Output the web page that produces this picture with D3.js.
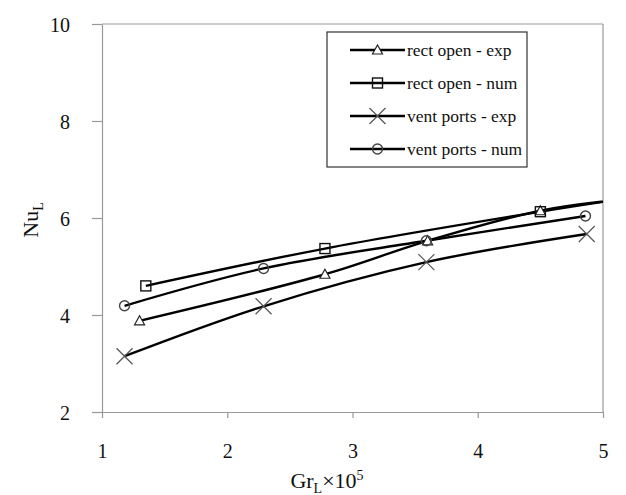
<!DOCTYPE html>
<html>
<head>
<meta charset="utf-8">
<script src="https://cdn.jsdelivr.net/npm/d3@7"></script>
<style>
  body { margin: 0; background: #fff; }
  svg text { font-family: "Liberation Serif", "DejaVu Serif", "Times New Roman", Times, serif; fill: #111; }
</style>
</head>
<body>
<svg id="chart" width="626" height="495"></svg>
<script>
// series data (Gr_L x 10^5, Nu_L)
const rectOpenExp = [[1.3, 3.88], [2.78, 4.84], [3.6, 5.53], [4.5, 6.15], [5.3, 6.42]];
const rectOpenNum = [[1.35, 4.6], [2.78, 5.37], [4.5, 6.13], [5.3, 6.45]];
const ventPortsExp = [[1.18, 3.15], [2.29, 4.18], [3.59, 5.09], [4.87, 5.67]];
const ventPortsNum = [[1.18, 4.19], [2.29, 4.96], [3.59, 5.53], [4.86, 6.04]];

const seriesNames = ['rect open - exp', 'rect open - num', 'vent ports - exp', 'vent ports - num'];
const markers = ['triangle', 'square', 'cross', 'circle'];
const xTicks = [1, 2, 3, 4, 5];
const yTicks = [2, 4, 6, 8, 10];

const allSeries = [rectOpenExp, rectOpenNum, ventPortsExp, ventPortsNum];

const serif = '"Liberation Serif", "DejaVu Serif", "Times New Roman", Times, serif';

const margin = { top: 24, right: 23, bottom: 83, left: 102 };
const width = 626;
const height = 495;

const svg = d3.select('#chart');

const x = d3.scaleLinear().domain([1, 5]).range([margin.left, width - margin.right]);
const y = d3.scaleLinear().domain([2, 10]).range([height - margin.bottom, margin.top]);

svg.append('defs').append('clipPath').attr('id', 'plotclip')
  .append('rect')
  .attr('x', x(1)).attr('y', y(10))
  .attr('width', x(5) - x(1)).attr('height', y(2) - y(10));

// frame lines (top and right)
svg.append('line')
  .attr('x1', x(1)).attr('x2', x(5)).attr('y1', y(10)).attr('y2', y(10))
  .attr('stroke', '#999').attr('stroke-width', 1.2);
svg.append('line')
  .attr('x1', x(5)).attr('x2', x(5)).attr('y1', y(10)).attr('y2', y(2))
  .attr('stroke', '#999').attr('stroke-width', 1.2);

const xAxis = svg.append('g')
  .attr('transform', `translate(0,${y(2)})`)
  .call(d3.axisBottom(x).tickValues(xTicks).tickSize(6).tickSizeOuter(0).tickPadding(26).tickFormat(d3.format('d')));
const yAxis = svg.append('g')
  .attr('transform', `translate(${x(1)},0)`)
  .call(d3.axisLeft(y).tickValues(yTicks).tickSize(10).tickSizeOuter(0).tickPadding(22).tickFormat(d3.format('d')));

[xAxis, yAxis].forEach((g) => {
  g.attr('font-family', serif);
  g.selectAll('.domain').attr('stroke', '#999').attr('stroke-width', 1.2);
  g.selectAll('.tick line').attr('stroke', '#999').attr('stroke-width', 1.2);
  g.selectAll('.tick text').attr('font-size', 20).attr('fill', '#111')
    .style('font-family', serif);
});
yAxis.selectAll('.tick text').attr('dy', '0.35em');

const line = d3.line()
  .x((d) => x(d[0]))
  .y((d) => y(d[1]))
  .curve(d3.curveCatmullRom.alpha(0.5));

const plot = svg.append('g').attr('clip-path', 'url(#plotclip)');

allSeries.forEach((data) => {
  plot.append('path')
    .datum(data)
    .attr('fill', 'none')
    .attr('stroke', '#000')
    .attr('stroke-width', 2.4)
    .attr('d', line);
});

function drawMarker(g, type, cx, cy) {
  const s = 5;
  if (type === 'triangle') {
    g.append('path')
      .attr('d', `M${cx},${cy - s}L${cx + s},${cy + s * 0.8}L${cx - s},${cy + s * 0.8}Z`)
      .attr('fill', '#fff').attr('stroke', '#222').attr('stroke-width', 1.2);
  } else if (type === 'square') {
    g.append('rect')
      .attr('x', cx - s).attr('y', cy - s).attr('width', 2 * s).attr('height', 2 * s)
      .attr('fill', 'none').attr('stroke', '#111').attr('stroke-width', 1.4);
  } else if (type === 'cross') {
    const c = 8;
    g.append('path')
      .attr('d', `M${cx - c},${cy - c}L${cx + c},${cy + c}M${cx - c},${cy + c}L${cx + c},${cy - c}`)
      .attr('stroke', '#555').attr('stroke-width', 1.2);
  } else {
    g.append('circle')
      .attr('cx', cx).attr('cy', cy).attr('r', s)
      .attr('fill', 'none').attr('stroke', '#444').attr('stroke-width', 1.4);
  }
}

allSeries.forEach((data, i) => {
  data.filter((d) => d[0] <= 5).forEach((d) => drawMarker(plot, markers[i], x(d[0]), y(d[1])));
});

// legend
const legend = svg.append('g');
legend.append('rect')
  .attr('x', 327).attr('y', 32).attr('width', 200).attr('height', 135)
  .attr('fill', '#fff').attr('stroke', '#333').attr('stroke-width', 1.2);
seriesNames.forEach((name, i) => {
  const ly = 50 + i * 33;
  legend.append('line')
    .attr('x1', 350).attr('x2', 405).attr('y1', ly).attr('y2', ly)
    .attr('stroke', '#000').attr('stroke-width', 2.4);
  drawMarker(legend, markers[i], 377.5, ly);
  legend.append('text')
    .attr('x', 407).attr('y', ly).attr('dy', '0.33em')
    .attr('font-size', 17.5)
    .style('font-family', serif)
    .text(name);
});

// axis titles
const yTitle = svg.append('text')
  .attr('transform', 'translate(38,220) rotate(-90)')
  .attr('text-anchor', 'middle')
  .attr('font-size', 22)
  .style('font-family', serif);
yTitle.append('tspan').text('Nu');
yTitle.append('tspan').attr('font-size', 14).attr('dy', 5).text('L');

const xTitle = svg.append('text')
  .attr('x', 327).attr('y', 488)
  .attr('text-anchor', 'middle')
  .attr('font-size', 22)
  .style('font-family', serif);
xTitle.append('tspan').text('Gr');
xTitle.append('tspan').attr('font-size', 14).attr('dy', 5).text('L');
xTitle.append('tspan').attr('dy', -5).text('×10');
xTitle.append('tspan').attr('font-size', 14).attr('dy', -8).text('5');
</script>
</body>
</html>
